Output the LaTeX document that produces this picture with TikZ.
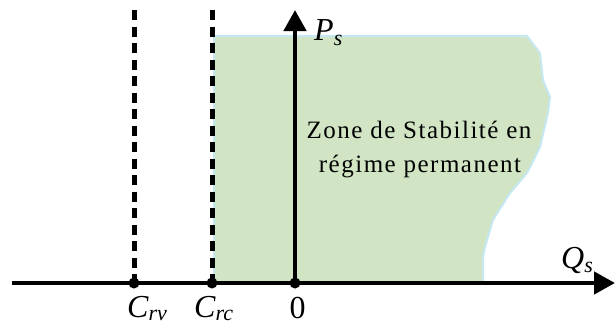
\documentclass[tikz,border=0pt]{standalone}
\usepackage{fontspec}
\setmainfont{Liberation Serif}
\newfontfamily\zonefont[LetterSpace=6]{Liberation Serif}
\usetikzlibrary{arrows.meta}
\definecolor{zonegreen}{RGB}{209,229,197}
\definecolor{zoneedge}{RGB}{198,232,242}
\tikzset{
  axisline/.style={line width=4.6pt,-{Triangle[length=21pt,width=22pt]}},
  boundline/.style={line width=5pt,dash pattern=on 10pt off 6.5pt},
  axdot/.style={circle,fill=black,inner sep=0pt,minimum size=11pt},
  biglabel/.style={inner sep=0pt,font=\fontsize{32}{32}\selectfont\itshape},
  zonetext/.style={inner sep=0pt,font=\fontsize{25}{25}\zonefont},
}
\newcommand{\lbsub}[2]{\raisebox{-#1}{\fontsize{22}{22}\selectfont\itshape #2}}
\begin{document}
\begin{tikzpicture}[x=1pt,y=-1pt]
\useasboundingbox (0,0) rectangle (615,325);
% stability zone
\fill[zonegreen,draw=zoneedge,line width=2pt]
  (214,36) -- (527,36) -- (540,53) -- (543,80) -- (550,97) -- (548,113)
  -- (540,147) -- (527,173) -- (510,193) -- (493,220) -- (485,247)
  -- (483,257) -- (483,283) -- (214,283) -- cycle;
% coordinates
\coordinate (rvtop) at (134,10);
\coordinate (rcbot) at (212,283);
\coordinate (rctop) at (212,10);
\coordinate (rvbot) at (134,283);
\coordinate (origin) at (295,283);
\coordinate (qend) at (615,283);
\coordinate (qstart) at (12,283);
\coordinate (pend) at (295,10);
% dashed limits
\draw[boundline] (rvtop) -- (rvbot);
\draw[boundline] (rctop) -- (rcbot);
% axes
\draw[axisline] (qstart) -- (qend);
\draw[axisline] (origin) -- (pend);
% dots
\node[axdot] (drv) at (rvbot) {};
\node[axdot] (drc) at (rcbot) {};
\node[axdot] (dor) at (origin) {};
% labels
\node[biglabel,anchor=base west] (ps) at (314,40) {P\lbsub{5pt}{s}};
\node[biglabel,anchor=base west] (qs) at (561,268) {Q\lbsub{4pt}{s}};
\node[biglabel,anchor=base west] (crv) at (127,317) {C\lbsub{3pt}{rv}};
\node[biglabel,anchor=base west] (crc) at (194,317) {C\lbsub{3pt}{rc}};
\node[biglabel,font=\fontsize{32}{32}\selectfont,anchor=base] (zero) at (297.5,318) {0};
\node[zonetext,anchor=base] (z1) at (419,138) {Zone de Stabilité en};
\node[zonetext,anchor=base] (z2) at (420,172) {régime permanent};
\end{tikzpicture}
\end{document}
